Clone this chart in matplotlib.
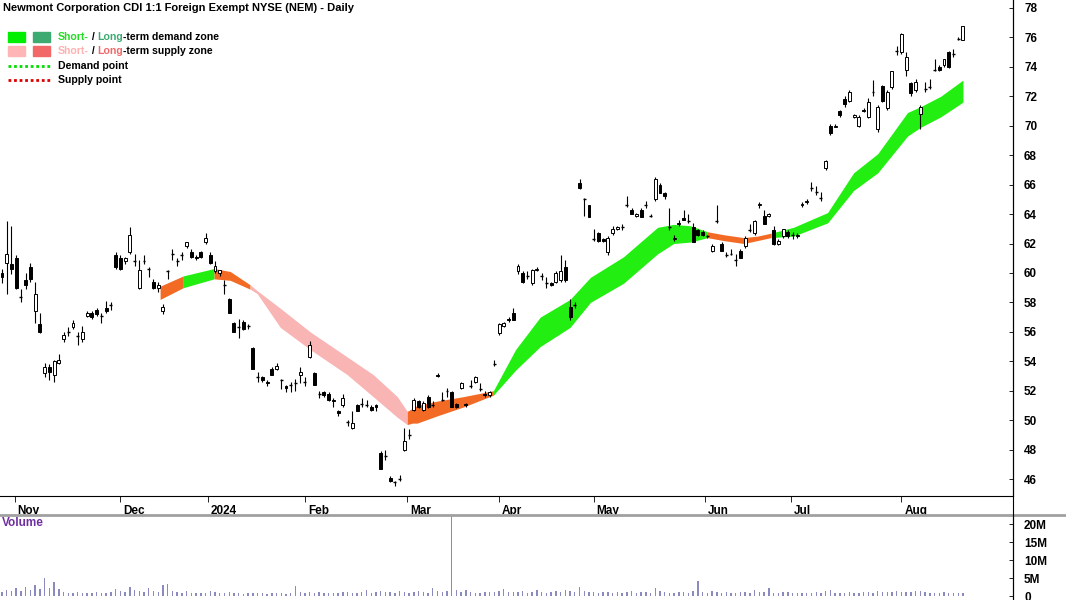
import matplotlib
matplotlib.use("Agg")
import matplotlib.pyplot as plt
from matplotlib.patches import Rectangle

plt.rcParams['font.family'] = ['Liberation Sans', 'DejaVu Sans']

title = "Newmont Corporation CDI 1:1 Foreign Exempt NYSE (NEM) - Daily"

ohlc = [
# Oct
(60.0,60.3,59.3,59.7),(60.7,63.5,58.6,61.3),(60.6,63.2,59.9,60.3),
# Nov
(61.0,61.2,58.9,59.0),(58.4,58.9,58.0,58.4),(59.5,60.0,58.9,59.2),(60.4,60.7,59.4,59.6),
(57.4,59.4,56.6,58.6),(56.5,57.3,55.9,56.0),(53.2,53.9,52.9,53.6),(53.6,53.8,52.7,53.3),
(53.1,54.1,52.6,54.0),(53.9,54.5,53.8,54.1),(55.5,56.0,55.3,55.8),(56.0,56.3,55.7,56.0),
(56.3,56.8,56.2,56.6),(55.7,56.0,55.1,55.7),(55.5,56.4,55.3,56.0),(57.1,57.4,57.0,57.3),
(57.3,57.4,56.9,57.0),(57.5,57.6,57.1,57.2),(57.1,57.3,56.6,57.1),(57.6,58.1,57.3,57.4),
(57.8,58.0,57.5,57.8),
# Dec
(61.2,61.4,60.3,60.4),(61.0,61.2,60.2,60.3),(60.8,61.1,60.6,61.0),(61.4,63.1,61.3,62.6),
(60.8,61.3,60.5,60.8),(59.0,60.9,58.9,60.2),(60.8,61.2,60.6,60.8),(60.3,60.4,59.7,60.3),
(59.4,59.6,58.9,59.0),(59.0,59.4,58.7,59.2),(57.4,57.9,57.2,57.7),(60.1,60.2,59.6,60.1),
(61.3,61.6,60.9,61.3),(60.8,61.0,60.5,60.8),(61.2,61.4,60.9,61.2),(61.8,62.1,61.7,62.1),
(61.4,61.6,61.0,61.1),(61.1,61.2,60.9,61.0),(61.4,61.5,61.0,61.1),(62.1,62.7,62.0,62.4),
# Jan
(61.2,61.4,60.6,60.7),(60.1,60.8,60.0,60.5),(60.0,60.2,59.8,60.2),(59.2,59.5,58.6,59.2),
(58.2,58.3,57.3,57.3),(56.6,56.7,56.0,56.0),(56.3,56.9,55.6,56.3),(56.7,56.8,56.1,56.2),
(56.4,56.5,56.2,56.4),(54.9,55.0,53.5,53.5),(52.9,53.3,52.6,52.9),(52.9,53.0,52.6,52.7),
(52.6,52.7,52.3,52.5),(53.5,53.6,53.1,53.1),(53.5,53.9,53.4,53.7),(52.7,52.8,52.1,52.7),
(52.3,52.4,51.9,52.2),(52.4,52.6,51.9,52.4),(52.5,52.8,52.0,52.5),(53.1,53.6,52.5,53.3),
(52.6,52.9,52.3,52.6),
# Feb
(54.3,55.4,54.2,55.1),(53.2,53.3,52.4,52.4),(51.8,52.0,51.5,51.8),(51.9,52.0,51.6,51.7),
(51.8,51.9,51.3,51.4),(51.4,51.5,50.9,51.3),(50.6,50.7,50.3,50.5),(51.0,51.8,50.9,51.5),
(49.9,50.0,49.6,49.9),(49.5,50.6,49.4,49.8),(51.0,51.1,50.6,50.6),(51.1,51.5,50.9,51.1),
(51.0,51.4,50.9,51.0),(50.9,51.0,50.6,50.7),(51.0,51.1,50.6,50.9),(47.8,47.9,46.7,46.7),
(47.6,48.0,47.3,47.6),(46.1,46.2,45.8,45.9),(45.8,45.9,45.5,45.8),(46.0,46.3,45.9,46.0),
# Mar
(48.0,49.5,47.9,48.6),(49.0,49.4,48.7,49.0),(50.7,51.5,50.6,51.4),(51.3,51.4,50.8,50.9),
(50.7,51.3,50.6,51.2),(51.6,51.7,50.8,50.9),(51.0,51.3,50.9,51.0),(53.1,53.2,52.9,53.0),
(51.4,51.9,51.3,51.4),(52.0,52.2,51.6,52.0),(51.9,52.0,50.9,50.9),(51.1,51.2,50.8,50.9),
(52.2,52.6,52.1,52.5),(51.1,51.2,50.9,51.0),(52.3,52.7,52.2,52.3),(52.6,53.0,52.5,52.9),
(52.1,52.5,52.0,52.1),(51.8,52.0,51.6,51.7),(51.7,52.0,51.6,51.9),(53.8,54.1,53.7,53.8),
# Apr
(55.9,56.6,55.8,56.5),(56.4,56.7,56.3,56.6),(56.9,57.0,56.7,56.8),(57.3,57.6,56.8,56.8),
(60.1,60.6,59.9,60.5),(60.0,60.1,59.3,59.4),(59.8,60.1,59.6,59.8),(59.3,60.3,59.2,60.2),
(60.2,60.4,60.1,60.3),(59.8,60.0,59.5,59.8),(59.3,59.7,59.0,59.3),(59.3,59.4,59.1,59.2),
(59.4,60.1,59.3,60.0),(59.5,61.2,59.4,60.1),(60.4,60.9,59.4,59.5),(57.7,58.2,56.8,57.0),
(57.8,58.0,57.6,57.8),(66.1,66.4,65.7,65.8),(65.0,65.1,63.9,65.0),(64.6,64.6,63.8,63.8),
(62.3,63.0,62.2,62.3),(62.7,62.8,62.1,62.2),
# May
(62.3,62.4,62.1,62.2),(61.4,62.5,61.2,62.4),(62.7,63.2,62.6,63.0),(63.0,63.2,62.9,63.1),
(63.1,63.3,62.9,63.1),(64.6,65.2,64.5,64.6),(64.3,64.4,64.0,64.0),(63.9,64.1,63.8,64.0),
(64.3,64.4,63.8,63.8),(64.6,64.9,64.4,64.6),(63.9,64.0,63.8,63.9),(65.0,66.5,64.9,66.4),
(66.0,66.1,65.4,65.4),(65.4,65.5,65.0,65.2),(63.1,64.4,62.9,63.1),(62.3,62.6,62.2,62.4),
(63.3,63.6,63.2,63.4),(63.7,64.3,63.6,63.6),(63.5,64.0,63.4,63.5),(63.1,63.4,62.1,62.1),
(62.9,63.0,62.5,62.6),(62.8,62.9,62.5,62.6),(62.5,62.6,62.4,62.5),
# Jun
(61.5,62.0,61.4,61.8),(63.5,64.6,63.4,63.5),(62.0,62.1,61.5,61.5),(61.2,61.4,61.1,61.2),
(61.3,61.6,61.2,61.3),(60.9,61.3,60.5,60.9),(61.5,61.6,61.0,61.0),(61.8,62.5,61.7,62.4),
(62.9,63.3,62.8,62.9),(62.7,63.6,62.6,63.5),(64.6,64.8,64.4,64.7),(63.9,64.3,63.3,63.3),
(63.9,64.1,63.8,64.0),(62.9,63.2,61.9,62.0),(62.0,62.3,61.9,62.2),(62.5,63.0,62.4,63.0),
(62.8,62.9,62.4,62.5),(62.6,62.8,62.3,62.6),(62.5,62.7,62.4,62.6),
# Jul
(64.6,64.8,64.5,64.7),(64.8,65.0,64.7,64.9),(65.8,66.2,65.6,65.8),(65.5,65.9,65.3,65.5),
(65.1,65.5,64.9,65.1),(67.1,67.7,67.0,67.6),(70.0,70.1,69.4,69.5),(69.9,70.1,69.9,70.0),
(71.0,71.1,70.6,70.7),(71.8,72.0,71.3,71.5),(71.7,72.4,71.6,72.3),(70.6,70.8,70.5,70.7),
(70.0,70.7,69.9,70.6),(71.1,71.2,70.9,71.0),(70.6,71.9,70.5,71.6),(72.3,73.1,72.0,72.3),
(69.8,71.4,69.6,71.3),(72.7,72.8,71.6,71.7),(71.2,72.4,71.1,72.3),(72.6,73.7,72.5,73.7),
# Aug
(75.1,75.4,74.8,75.1),(75.0,76.3,74.9,76.2),(73.8,75.0,73.4,74.7),(72.9,73.0,72.0,72.2),
(72.4,73.2,72.3,73.0),(70.8,71.4,69.8,71.3),(72.5,73.0,72.3,72.5),(72.6,73.2,72.5,72.6),
(73.8,74.5,73.7,73.8),(74.0,74.1,73.7,73.8),(74.1,74.5,74.0,74.5),(75.0,75.1,73.9,74.0),
(74.9,75.2,74.7,74.9),(75.9,76.0,75.8,75.9),(75.8,76.8,75.8,76.8),
]

volume_m = [
1.2,1.8,1.4,
2.2,1.6,2.6,1.9,3.2,2.1,5.2,2.4,4.1,2.0,1.3,1.0,0.9,1.1,0.8,1.0,0.9,1.2,0.8,1.0,1.3,
2.0,1.5,1.2,2.6,1.8,1.5,1.2,2.4,1.6,1.2,3.2,3.4,1.5,1.2,1.0,1.4,0.9,1.0,0.8,0.9,
1.6,1.2,1.0,0.9,1.1,0.8,0.9,0.7,0.8,1.0,0.9,0.8,0.7,0.9,0.8,0.8,0.7,1.0,2.8,1.1,0.9,
1.2,1.0,1.1,0.9,0.8,0.9,1.0,1.2,1.1,0.9,1.0,1.3,1.9,1.0,1.1,1.5,1.3,1.1,1.0,1.6,
1.2,1.0,1.3,1.6,1.1,0.9,2.2,1.4,1.3,1.5,22.3,1.8,1.2,1.9,1.3,1.0,0.9,1.1,1.3,1.2,
1.6,2.0,1.3,1.1,1.2,1.4,1.0,1.3,1.8,1.1,1.0,1.2,1.5,1.1,1.9,1.4,1.3,2.6,1.6,1.2,1.1,1.0,
1.3,1.2,1.0,1.2,0.9,1.3,1.6,1.0,1.2,1.1,1.0,2.2,1.5,1.1,1.0,0.9,1.1,1.3,1.0,1.4,4.2,1.1,0.9,
1.5,1.2,1.0,1.1,0.9,1.0,1.3,1.2,1.0,1.8,1.1,1.2,2.4,1.0,0.9,1.1,1.2,1.0,0.9,
1.0,0.8,0.9,1.1,0.9,1.4,1.7,1.0,0.9,0.8,1.1,1.0,0.9,1.2,1.1,1.0,1.4,1.2,1.3,1.1,
1.5,1.2,1.1,1.3,1.4,1.6,1.1,1.0,0.9,1.0,1.1,0.9,1.0,0.9,1.0,
]

month_labels = ["Nov", "Dec", "2024", "Feb", "Mar", "Apr", "May", "Jun", "Jul", "Aug"]
month_pos = [2.7, 25, 43.5, 64, 85.6, 105, 125, 148.6, 166.6, 190]

band_x = [33.4,38.3,44.8,48.2,52.4,53.9,58.8,65.1,72.9,78.4,83.5,85.6,86.7,87.7,92,97.5,
          103.8,108.5,113.7,120,124.3,131.3,138.5,141.9,145.5,149,152.4,156.7,159.6,162.4,
          167.2,174.4,179.9,185,191.3,194.1,198.3,203]
band_top = [59.1,59.8,60.3,60.1,59.2,58.8,57.6,56.0,54.3,53.1,51.6,50.6,50.8,51.0,51.3,51.6,
            52.0,54.8,57.0,58.2,59.7,61.1,63.1,63.3,63.2,62.8,62.6,62.4,62.5,62.7,
            63.1,64.1,66.8,68.1,70.9,71.3,72.0,73.1]
band_bot = [58.2,59.0,59.6,59.5,58.9,58.6,56.3,54.8,53.1,51.6,50.2,49.7,49.8,49.8,50.3,50.9,
            51.7,53.4,55.0,56.3,58.0,59.3,61.3,62.0,62.1,62.4,62.2,62.0,62.2,62.4,
            62.5,63.4,65.6,66.8,69.3,69.9,70.6,71.6]
zone_segments = [(33.4,38.3,'orange'),(38.3,44.8,'green'),(44.8,52.4,'orange'),
                 (52.4,85.6,'pink'),(85.6,103.8,'orange'),(103.8,149,'green'),
                 (149,162.4,'orange'),(162.4,203,'green')]
zone_colors = {'orange': '#F26A24', 'green': '#22EE11', 'pink': '#F9B4B4'}

W, H = 1066, 600
fig = plt.figure(figsize=(W/100, H/100), dpi=100)
axp = fig.add_axes([0, 1-496/H, 1013/W, 496/H])
axv = fig.add_axes([0, 0, 1013/W, 85/H])

step = 4.73
xl = (-2/step, 203 + 50/step)
for ax in (axp, axv):
    ax.set_xlim(*xl)
    for s in ['left', 'top']:
        ax.spines[s].set_visible(False)
    ax.yaxis.tick_right()
    ax.tick_params(axis='y', direction='in', length=3, width=0.6, pad=8, labelsize=8.5)

for a, b, c in zone_segments:
    idx = [k for k, xv in enumerate(band_x) if a - 1e-6 <= xv <= b + 1e-6]
    axp.fill_between([band_x[k] for k in idx], [band_bot[k] for k in idx],
                     [band_top[k] for k in idx], color=zone_colors[c], lw=0, zorder=1)

bw = 0.62
for i, (o, h, l, c) in enumerate(ohlc):
    axp.vlines(i, l, h, color='black', lw=0.8, zorder=2)
    if abs(c - o) < 0.05:
        axp.hlines(o, i - bw/2, i + bw/2, color='black', lw=1.0, zorder=3)
    else:
        up = c > o
        axp.add_patch(Rectangle((i - bw/2, min(o, c)), bw, abs(c - o),
                                facecolor='white' if up else 'black',
                                edgecolor='black', lw=0.7, zorder=3))

axp.set_ylim(44.85, 78.54)
axp.set_yticks(range(46, 79, 2))
axp.set_yticklabels([str(v) for v in range(46, 79, 2)], fontweight='bold', fontsize=8.5)
axp.set_xticks(month_pos)
axp.set_xticklabels([])
axp.tick_params(axis='x', direction='out', length=4, width=0.6)
axp.spines['bottom'].set_linewidth(0.8)
for p, lab in zip(month_pos, month_labels):
    axp.text(p + 0.6, -0.018, lab, transform=axp.get_xaxis_transform(), ha='left', va='top',
             fontsize=8.5, fontweight='bold')

axv.bar(range(len(volume_m)), [v*1e6 for v in volume_m], width=0.3, color='#8A8ABF', lw=0)
axv.set_ylim(-1.0e6, 22.5e6)
axv.set_yticks([0, 5e6, 10e6, 15e6, 20e6])
axv.set_yticklabels(['0', '5M', '10M', '15M', '20M'], fontweight='bold', fontsize=8.5)
axv.set_xticks([])
axv.spines['bottom'].set_visible(False)
axv.text(0.002, 1-8/85, 'Volume', transform=axv.transAxes, color='#7030A0',
         fontweight='bold', fontsize=8.5, va='center')

fig.add_artist(plt.Line2D([0, 1], [1-515/H, 1-515/H], color='#A0A0A0', lw=2))
fig.add_artist(plt.Line2D([1013/W, 1013/W], [0, 1], color='black', lw=0.8))

def fx(x): return x / W
def fy(y): return 1 - y / H

fig.text(fx(3), fy(8), title, fontsize=8.0, fontweight='bold', va='center')

fs = 7.6
for x0, col in [(8, '#00EE00'), (33, '#3DAA72')]:
    fig.add_artist(Rectangle((fx(x0), fy(42)), 17/W, 10/H, color=col, transform=fig.transFigure))
for x0, col in [(8, '#FFB5B5'), (33, '#F26868')]:
    fig.add_artist(Rectangle((fx(x0), fy(56)), 17/W, 10/H, color=col, transform=fig.transFigure))
fig.add_artist(plt.Line2D([fx(8), fx(50)], [fy(66), fy(66)], color='#00DD00', lw=2, ls=(0, (1, 1))))
fig.add_artist(plt.Line2D([fx(8), fx(50)], [fy(80), fy(80)], color='#DD0000', lw=2, ls=(0, (1, 1))))

renderer = fig.canvas.get_renderer()
parts1 = [('Short-', '#22DD22'), (' / ', 'black'), ('Long', '#3DAA72'), ('-term demand zone', 'black')]
parts2 = [('Short-', '#FFB0B0'), (' / ', 'black'), ('Long', '#F26868'), ('-term supply zone', 'black')]
for parts, y in [(parts1, 37), (parts2, 51)]:
    x = 58
    for t, col in parts:
        tx = fig.text(fx(x), fy(y), t, color=col, fontsize=fs, fontweight='bold', va='center')
        bb = tx.get_window_extent(renderer=renderer)
        x += bb.width
fig.text(fx(58), fy(66), 'Demand point', fontsize=fs, fontweight='bold', va='center')
fig.text(fx(58), fy(80), 'Supply point', fontsize=fs, fontweight='bold', va='center')

fig.savefig('out.png', dpi=100)
